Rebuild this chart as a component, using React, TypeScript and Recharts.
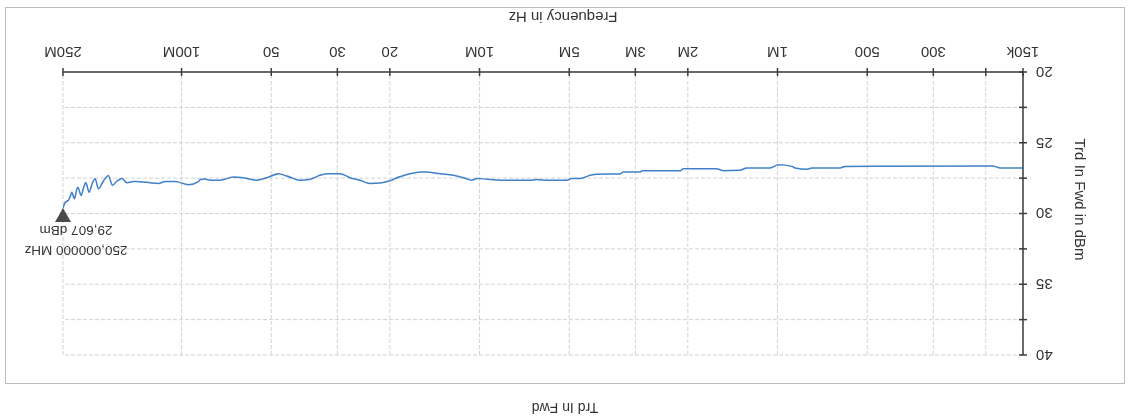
import React from 'react';
import { LineChart, Line, XAxis, YAxis, CartesianGrid, Legend, ReferenceDot } from 'recharts';

// trace (frequency in Hz, level in dBm)
const freqHz = [
  150000, 179000, 188700, 593000, 617000, 768000, 798000, 873000, 896000, 993000,
  1060000, 1270000, 1340000, 1520000, 1600000, 2070000, 2120000, 2840000, 2890000, 3300000,
  3380000, 4030000, 4260000, 4600000, 4900000, 5100000, 5950000, 6430000, 6770000, 8530000,
  9220000, 10200000, 10620000, 11330000, 12240000, 13570000, 14660000, 15800000, 17100000, 18500000,
  20000000, 21600000, 23300000, 25200000, 27200000, 29400000, 32500000, 34300000, 37000000, 40000000,
  44400000, 47300000, 51700000, 55900000, 62000000, 67000000, 74200000, 80200000, 83400000, 86600000,
  87800000, 94800000, 105100000, 113600000, 119600000, 129200000, 143200000, 152700000, 158700000, 164500000,
  170600000, 176000000, 183000000, 190100000, 195100000, 200000000, 204300000, 209600000, 213500000, 217300000,
  222900000, 226000000, 228900000, 233500000, 236500000, 239700000, 245900000, 250000000,
];
const levelDbm = [
  26.79, 26.79, 26.65, 26.67, 26.79, 26.79, 26.88, 26.79, 26.67, 26.56,
  26.79, 26.79, 26.95, 26.98, 26.84, 26.84, 26.98, 26.98, 27.07, 27.07,
  27.2, 27.22, 27.3, 27.53, 27.53, 27.65, 27.65, 27.6, 27.65, 27.65,
  27.6, 27.53, 27.65, 27.47, 27.3, 27.19, 27.09, 27.07, 27.19, 27.4,
  27.68, 27.84, 27.88, 27.65, 27.47, 27.19, 27.19, 27.3, 27.58, 27.65,
  27.35, 27.19, 27.47, 27.65, 27.47, 27.42, 27.65, 27.65, 27.57, 27.6,
  27.74, 27.97, 27.74, 27.74, 27.88, 27.81, 27.74, 27.82, 27.52, 27.7,
  28.0, 27.32, 27.7, 28.25, 27.55, 27.95, 28.5, 27.82, 28.2, 28.72,
  28.15, 28.5, 28.95, 28.5, 28.8, 29.05, 29.22, 29.607,
];

const freqTicks = [150000, 200000, 300000, 500000, 1e6, 2e6, 3e6, 5e6, 1e7, 2e7, 3e7, 5e7, 1e8, 2.5e8];
const freqTickLabels = ['150k', '', '300', '500', '1M', '2M', '3M', '5M', '10M', '20', '30', '50', '100M', '250M'];
const levelTicks = [20, 22.5, 25, 27.5, 30, 32.5, 35, 37.5, 40];

const markerFreq = 250000000;
const markerLevel = 29.607;
const markerFreqText = '250,000000 MHz';
const markerLevelText = '29,607 dBm';

const seriesName = 'Trd In Fwd';

const data = freqHz.map((f, i) => ({ freq: f, level: levelDbm[i] }));

const AXIS = '#3c3c3c';
const TEXT = '#333';

// tick mark crossing the axis + label
const FreqTick = ({ x, y, payload }: any) => {
  const idx = freqTicks.indexOf(payload.value);
  const label = idx >= 0 ? freqTickLabels[idx] : '';
  return (
    <g>
      <line x1={x} x2={x} y1={y - 4} y2={y + 4} stroke={AXIS} strokeWidth={1.5} />
      {label && (
        <text x={x} y={y + 25} textAnchor="middle" fill={TEXT} fontSize={15}>
          {label}
        </text>
      )}
    </g>
  );
};

const LevelTick = ({ x, y, payload }: any) => (
  <g>
    <line x1={x - 4} x2={x + 4} y1={y} y2={y} stroke={AXIS} strokeWidth={1.5} />
    {payload.value % 5 === 0 && (
      <text x={x - 13} y={y + 5} textAnchor="end" fill={TEXT} fontSize={15}>
        {payload.value}
      </text>
    )}
  </g>
);

// marker: triangle pointing at the trace, readout above it
const MarkerShape = ({ cx, cy }: any) => (
  <g>
    <path d={`M${cx},${cy} L${cx - 8},${cy - 14} L${cx + 8},${cy - 14} Z`} fill="#4a4a4a" />
    <text x={cx - 13} y={cy - 18} textAnchor="middle" fill={TEXT} fontSize={13.5}>
      {markerLevelText}
    </text>
    <text x={cx - 13} y={cy - 38} textAnchor="middle" fill={TEXT} fontSize={13.5}>
      {markerFreqText}
    </text>
  </g>
);

const LegendText = () => (
  <div style={{ textAlign: 'center', fontSize: 14, color: TEXT }}>{seriesName}</div>
);

export default function App() {
  return (
    <div
      style={{
        position: 'fixed',
        left: 0,
        top: 0,
        width: 1130,
        height: 419,
        background: '#fff',
        transform: 'rotate(180deg)',
        fontFamily: '"Liberation Sans", Arial, sans-serif',
      }}
    >
      <div
        style={{
          position: 'absolute',
          left: 5,
          top: 35,
          width: 1120,
          height: 377,
          border: '1px solid #bdbdbd',
          boxSizing: 'border-box',
        }}
      />
      <LineChart width={1130} height={419} data={data} margin={{ top: 64, right: 63, bottom: 0, left: 0 }}>
        <CartesianGrid stroke="#d2d2d2" strokeDasharray="4 2" />
        <XAxis
          dataKey="freq"
          type="number"
          scale="log"
          domain={[150000, 250000000]}
          ticks={freqTicks}
          interval={0}
          allowDataOverflow
          height={72}
          stroke={AXIS}
          strokeWidth={1.5}
          tickSize={0}
          tickMargin={0}
          tickLine={false}
          tick={<FreqTick />}
          label={{ value: 'Frequency in Hz', position: 'insideBottom', offset: 12, dx: -20, fill: TEXT, fontSize: 15 }}
        />
        <YAxis
          type="number"
          domain={[20, 40]}
          ticks={levelTicks}
          interval={0}
          width={107}
          stroke={AXIS}
          strokeWidth={1.5}
          tickSize={0}
          tickMargin={0}
          tickLine={false}
          tick={<LevelTick />}
          label={{ value: 'Trd In Fwd in dBm', angle: -90, position: 'center', dx: -4, dy: 14, fill: TEXT, fontSize: 15 }}
        />
        <Legend
          verticalAlign="middle"
          align="center"
          layout="horizontal"
          content={<LegendText />}
          wrapperStyle={{ top: 3, left: 0, width: 1130 }}
        />
        <Line
          name={seriesName}
          dataKey="level"
          type="monotone"
          stroke="#3f80c8"
          strokeWidth={1.5}
          dot={false}
          isAnimationActive={false}
        />
        <ReferenceDot x={markerFreq} y={markerLevel} shape={<MarkerShape />} ifOverflow="visible" />
      </LineChart>
    </div>
  );
}
